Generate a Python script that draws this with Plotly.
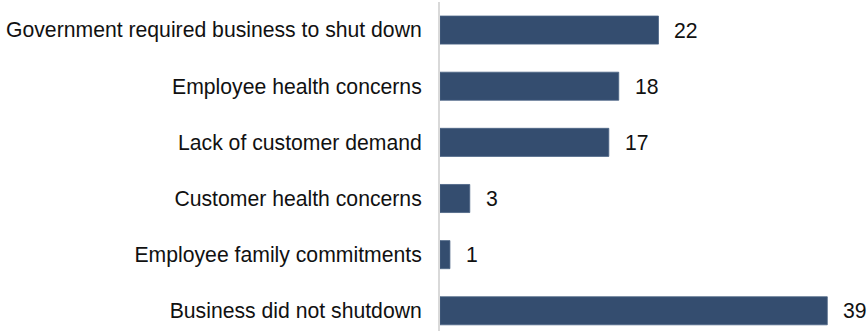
import plotly.graph_objects as go

# Reasons for business shutdown (percent of respondents)
reasons = [
    "Government required business to shut down",
    "Employee health concerns",
    "Lack of customer demand",
    "Customer health concerns",
    "Employee family commitments",
    "Business did not shutdown",
]
shares = [22, 18, 17, 3, 1, 39]

BAR_COLOR = "#344d6f"
FONT = "Liberation Sans, Arial, sans-serif"

fig = go.Figure(
    go.Bar(
        x=shares,
        y=reasons,
        orientation="h",
        marker=dict(color=BAR_COLOR, line=dict(color="#4a6384", width=0.8)),
        hoverinfo="skip",
    )
)

# Value labels placed just past the end of each bar
for r, v in zip(reasons, shares):
    fig.add_annotation(
        x=v, y=r, text=str(v), showarrow=False,
        xanchor="left", yanchor="middle", xshift=14,
        font=dict(family=FONT, size=21.2, color="#111111"),
    )

fig.update_layout(
    width=868,
    height=331,
    margin=dict(l=440, r=0, t=2, b=0),
    paper_bgcolor="white",
    plot_bgcolor="white",
    bargap=0.5,
    showlegend=False,
    font=dict(family=FONT, size=21.2, color="#111111"),
)
fig.update_xaxes(
    range=[0, 43.1],
    visible=False,
    showgrid=False,
    zeroline=False,
)
fig.update_yaxes(
    categoryorder="array",
    categoryarray=reasons,
    range=[5.36, -0.5],
    showline=True,
    linecolor="#d9d9d9",
    linewidth=2,
    showgrid=False,
    zeroline=False,
    ticks="",
    ticklabelstandoff=12,
    tickfont=dict(family=FONT, size=21.2, color="#111111"),
)

fig.write_html("out.html")
